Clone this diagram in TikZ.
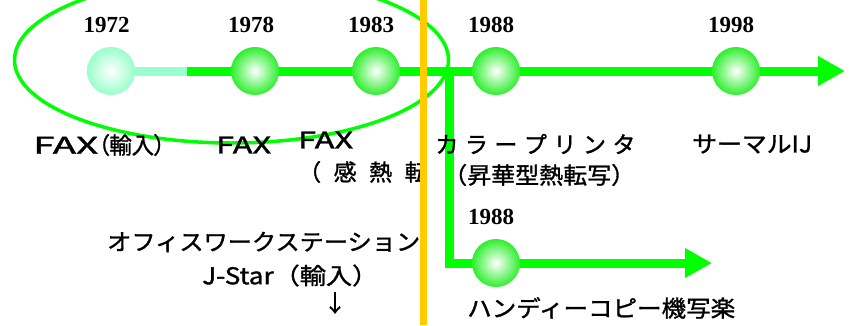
\documentclass[tikz,border=0pt]{standalone}
\usepackage{fontspec}
\setmainfont{Noto Sans CJK JP}[FakeBold=1.3]
\newfontfamily\yearfont{Liberation Serif}
\usepackage{graphicx}
\usetikzlibrary{arrows.meta}
\definecolor{brgreen}{HTML}{00FF00}
\definecolor{mint}{HTML}{99FFCC}
\definecolor{ballgreen}{HTML}{2EEE2E}
\definecolor{ballmint}{HTML}{99FFCC}
\definecolor{barorange}{HTML}{FFCC00}
\newsavebox\fitbox
\newcommand\fitw[2]{\sbox\fitbox{#2}\pgfmathsetmacro\fwfac{#1/\wd\fitbox}\scalebox{\fwfac}[1]{\usebox\fitbox}}
\newcommand\cell[2]{\makebox[#1pt]{#2}}
\tikzset{
  lbl/.style={anchor=west, inner sep=0pt, font=\fontsize{23}{26}\selectfont},
  yr/.style={anchor=base, inner sep=0pt, font=\yearfont\bfseries\fontsize{23}{26}\selectfont},
  ball/.style={circle, minimum size=48pt, inner sep=0pt, inner color=white, outer color=ballgreen},
  mintball/.style={ball, outer color=ballmint},
  tline/.style={line width=9pt, brgreen},
  arr/.style={-{Triangle[length=27pt, width=28pt]}},
}
\begin{document}
\begin{tikzpicture}[x=1pt, y=-1pt]
\useasboundingbox (0,0) rectangle (851,325);
\clip (0,0) rectangle (851,325);
% ellipse
\draw[brgreen, line width=3.5pt] (231.5,60) ellipse [x radius=217, y radius=83];
% coordinates
\coordinate (p72) at (111,71);
\coordinate (p78) at (255,71);
\coordinate (p83) at (376,71);
\coordinate (p88) at (496,71);
\coordinate (p98) at (736,71);
\coordinate (q88) at (496,263);
\coordinate (mid) at (187,71);
\coordinate (tip) at (845,71);
\coordinate (br) at (449,71);
\coordinate (tip2) at (712,263);
% lines
\draw[line width=9pt, mint] (p72) -- (mid);
\draw[tline, arr] (mid) -- (tip);
\draw[tline, arr, line join=miter] (br) |- (tip2);
% balls
\node[mintball] (c72) at (p72) {};
\node[ball] (c78) at (p78) {};
\node[ball] (c83) at (p83) {};
\node[ball] (c88) at (p88) {};
\node[ball] (c98) at (p98) {};
\node[ball] (d88) at (q88) {};
% years
\node[yr] (y72) at (106.5,32.3) {1972};
\node[yr] (y78) at (251,32.3) {1978};
\node[yr] (y83) at (371,32.3) {1983};
\node[yr] (y88) at (491,32.3) {1988};
\node[yr] (y98) at (731,32.3) {1998};
\node[yr] (z88) at (491,224.3) {1988};
% labels
\node[lbl] (l1) at (33,145) {\fitw{65}{FAX}\fitw{67}{\addfontfeatures{RawFeature=+palt}（輸入）}};
\node[lbl] (l2) at (216,145) {\fitw{55}{FAX}};
\node[lbl] (l3) at (298,140) {\fitw{55}{FAX}};
\node[lbl] (l3b) at (291.75,172) {\cell{35.5}{（}\cell{35.5}{感}\cell{35.5}{熱}\cell{35.5}{転}};
\node[lbl] (l4) at (432,144) {\cell{29.5}{カ}\cell{29.5}{ラ}\cell{29.5}{ー}\cell{29.5}{プ}\cell{29.5}{リ}\cell{29.5}{ン}\cell{29.5}{タ}};
\node[lbl] (l4b) at (443,175) {\fitw{192}{（昇華型熱転写）}};
\node[lbl] (l5) at (692,144) {\fitw{120}{サーマルIJ}};
\node[lbl] (l6) at (107,242) {\fitw{313}{オフィスワークステーション}};
\node[lbl] (l7) at (202,275.5) {\fitw{176}{J-Star（輸入）}};
\node[lbl, anchor=center] (l8) at (335,303) {↓};
\node[lbl] (l9) at (467,308) {\fitw{268}{ハンディーコピー機写楽}};
% yellow bar
\draw[barorange, line width=6.5pt] (423.5,0) -- (423.5,325);
\end{tikzpicture}
\end{document}
